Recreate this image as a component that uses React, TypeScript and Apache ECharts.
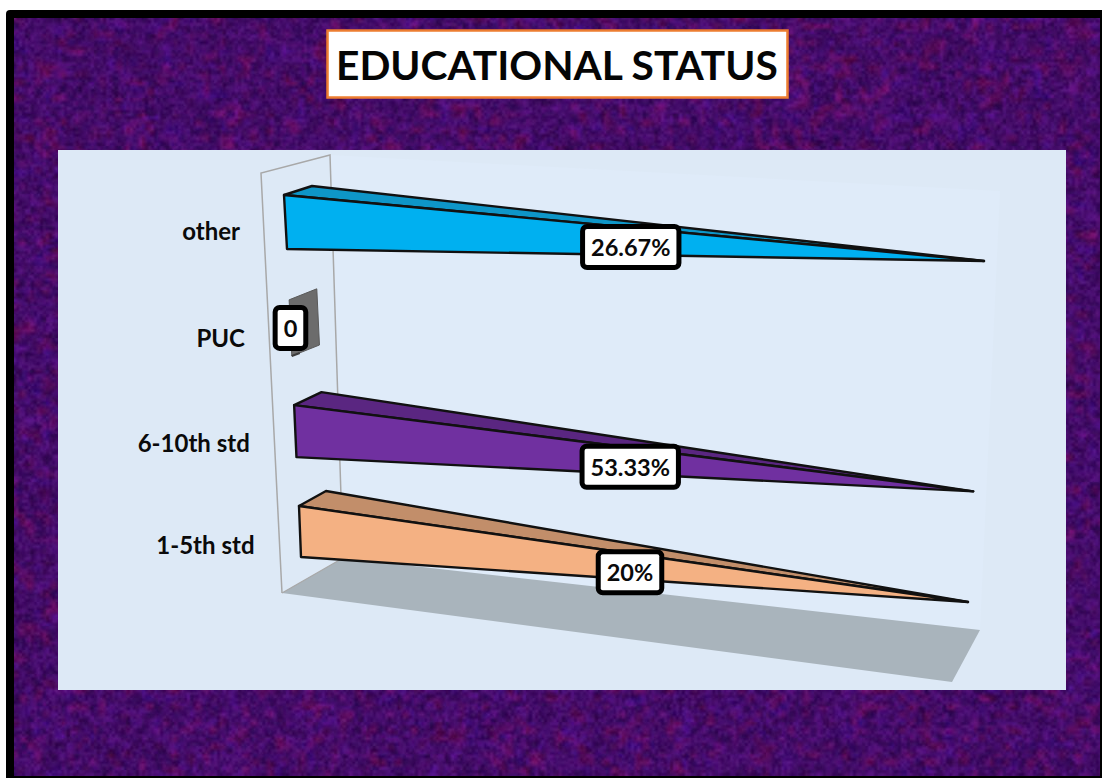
import React, { useEffect, useRef } from "react";
import * as echarts from "echarts";

// Categories run bottom to top on the hidden category axis.
const categories = ["1-5th std", "6-10th std", "PUC", "other"];
const percentages = [20, 53.33, 0, 26.67];
const frontColors = ["#F4B183", "#7030A0", "#6C6C6C", "#00B0F0"];
const topColors = ["#C28E6A", "#5A2681", "#6C6C6C", "#0E96C8"];

const titleText = "EDUCATIONAL STATUS";
const fontFamily = "Lato, 'Open Sans', sans-serif";

const lerp = (a: number, b: number, k: number) => a + (b - a) * k;

// The bars form a 100% stack with one member per category, so a filled category
// always reaches the far end of the axis and an empty one stays at the wall.
const shareOfCategory = (value: number) => (value > 0 ? (value / value) * 100 : 0);

// Perspective frame: where the flat plot's corners land on the page.
const frame = {
  topNear: [285.5, 222],
  topFar: [984, 261],
  bottomNear: [300, 531.5],
  bottomFar: [968, 602],
};

function project(u: number, t: number) {
  const tt = t + 0.04 * t * (1 - t);
  const top = [lerp(frame.topNear[0], frame.topFar[0], u), lerp(frame.topNear[1], frame.topFar[1], u)];
  const bot = [lerp(frame.bottomNear[0], frame.bottomFar[0], u), lerp(frame.bottomNear[1], frame.bottomFar[1], u)];
  return [lerp(top[0], bot[0], tt), lerp(top[1], bot[1], tt)];
}

function formatValue(v: number) {
  return v === 0 ? "0" : `${v}%`;
}

function renderBar(params: any, api: any) {
  const i = api.value(1) as number;
  const share = api.value(0) as number;
  const raw = percentages[i];
  const sys = params.coordSys;
  const [px, py] = api.coord([share, i]);
  const u = (px - sys.x) / sys.width;
  const band = (py - sys.y) / sys.height;
  const t = (band - 0.125) / 0.75;

  const near = project(0, t);
  const far = project(u, t);
  const empty = u === 0;
  const grow = empty ? 1.06 : 1;
  const half = lerp(27, 25.5, t) * grow;
  const skew = lerp(1.5, 1, t);
  const depthX = lerp(28, 27, t);
  const depthY = lerp(-9, -15, t);

  const tl = [near[0] - skew, near[1] - half];
  const bl = [near[0] + skew, near[1] + half];
  const backTop = [tl[0] + depthX, tl[1] + depthY];
  const backBottom = [bl[0] + depthX, bl[1] + depthY];

  const children: any[] = [];
  if (empty) {
    children.push({
      type: "polygon",
      shape: { points: [tl, backTop, backBottom, bl] },
      style: { fill: frontColors[i], stroke: "#5A5A5A", lineWidth: 1 },
    });
    children.push({
      type: "line",
      shape: { x1: bl[0], y1: bl[1], x2: bl[0] + 8, y2: bl[1] - 3 },
      style: { stroke: "#3C3C3C", lineWidth: 2 },
    });
  } else {
    children.push({
      type: "polygon",
      shape: { points: [tl, backTop, far] },
      style: { fill: topColors[i], stroke: "#111111", lineWidth: 2.4, lineJoin: "round" },
    });
    children.push({
      type: "polygon",
      shape: { points: [tl, bl, far] },
      style: { fill: frontColors[i], stroke: "#111111", lineWidth: 2.4, lineJoin: "round" },
    });
  }

  // Category name, set back from the wall along the same perspective.
  children.push({
    type: "text",
    style: {
      x: near[0] - 45.5,
      y: near[1] + lerp(8, 12.5, t),
      text: categories[i],
      align: "right",
      verticalAlign: "middle",
      fontFamily,
      fontWeight: 700,
      fontSize: 24,
      fill: "#0A0A0A",
    },
  });

  // Value tag, centred halfway along the bar.
  const mid = project(u / 2, t);
  children.push({
    type: "text",
    z2: 20,
    style: {
      x: mid[0] - 4 * u,
      y: mid[1] + 5.5 * u,
      text: formatValue(raw),
      align: "center",
      verticalAlign: "middle",
      fontFamily,
      fontWeight: 700,
      fontSize: 23.5,
      lineHeight: 24,
      fill: "#0A0A0A",
      backgroundColor: "#FFFFFF",
      borderColor: "#000000",
      borderWidth: 5,
      borderRadius: 2,
      padding: [6, 6, 6, 6],
    },
  });

  return { type: "group", children };
}

// Mottled purple backdrop built from layered value noise on a fixed hash.
function hash(x: number, y: number, seed: number) {
  let h = (x * 374761393 + y * 668265263 + seed * 2147483647) | 0;
  h = Math.imul(h ^ (h >>> 13), 1274126177);
  h = h ^ (h >>> 16);
  return (h >>> 0) / 4294967295;
}

function valueNoise(x: number, y: number, cell: number, seed: number) {
  const gx = Math.floor(x / cell);
  const gy = Math.floor(y / cell);
  let fx = x / cell - gx;
  let fy = y / cell - gy;
  fx = fx * fx * (3 - 2 * fx);
  fy = fy * fy * (3 - 2 * fy);
  return lerp(
    lerp(hash(gx, gy, seed), hash(gx + 1, gy, seed), fx),
    lerp(hash(gx, gy + 1, seed), hash(gx + 1, gy + 1, seed), fx),
    fy
  );
}

function buildBackdrop(width: number, height: number) {
  const canvas = document.createElement("canvas");
  canvas.width = width;
  canvas.height = height;
  const ctx = canvas.getContext("2d")!;
  const img = ctx.createImageData(width, height);
  for (let y = 0; y < height; y++) {
    for (let x = 0; x < width; x++) {
      const lum =
        0.55 * valueNoise(x, y, 3, 11) + 0.35 * valueNoise(x, y, 6, 23) + 0.1 * valueNoise(x, y, 18, 37);
      const warm = valueNoise(x, y, 8, 51);
      const cool = valueNoise(x, y, 11, 67);
      const k = (lum - 0.5) * 2.6;
      const o = (y * width + x) * 4;
      img.data[o] = 67 + k * 24 + Math.max(0, warm - 0.6) * 85;
      img.data[o + 1] = 12 + k * 7;
      img.data[o + 2] = 104 + k * 30 + Math.max(0, cool - 0.7) * 70 - Math.max(0, warm - 0.6) * 30;
      img.data[o + 3] = 255;
    }
  }
  ctx.putImageData(img, 0, 0);
  return canvas.toDataURL("image/jpeg", 0.85);
}

export default function App() {
  const ref = useRef<HTMLDivElement>(null);

  useEffect(() => {
    document.body.style.margin = "0";
    const chart = echarts.init(ref.current!, undefined, { renderer: "svg" });
    chart.setOption({
      animation: false,
      backgroundColor: "#FFFFFF",
      title: {
        text: titleText,
        left: 327,
        top: 30,
        backgroundColor: "#FFFFFF",
        borderColor: "#ED7D31",
        borderWidth: 2.5,
        padding: [13, 9, 13, 9],
        textStyle: {
          fontFamily,
          fontWeight: 700,
          fontSize: 40.7,
          lineHeight: 42,
          color: "#050505",
        },
      },
      grid: { left: 285, top: 170, width: 699, height: 416 },
      xAxis: { type: "value", min: 0, max: 100, show: false },
      yAxis: { type: "category", data: categories, show: false },
      graphic: [
        { type: "rect", z: -20, shape: { x: 6, y: 10, width: 1110, height: 780, r: 4 }, style: { fill: "#000000" } },
        { type: "image", z: -19, style: { image: buildBackdrop(1086, 758), x: 14, y: 18, width: 1086, height: 758 } },
        { type: "rect", z: -18, shape: { x: 58, y: 150, width: 1008, height: 540 }, style: { fill: "#DDE9F6" } },
        // back wall
        {
          type: "polygon",
          z: -17,
          shape: { points: [[330, 155], [1000, 191], [980, 630], [343, 560]] },
          style: { fill: "#DFEBF9" },
        },
        // floor
        {
          type: "polygon",
          z: -16,
          shape: { points: [[282, 593], [343, 558], [980, 630], [952, 682]] },
          style: { fill: "#A9B4BC" },
        },
        // side wall
        {
          type: "polyline",
          z: -15,
          shape: { points: [[282, 593], [261, 173], [330, 155], [343, 558]] },
          style: { stroke: "#A8A8A8", lineWidth: 1.5, fill: "none" },
        },
        {
          type: "line",
          z: -15,
          shape: { x1: 282, y1: 593, x2: 343, y2: 558 },
          style: { stroke: "#A8A8A8", lineWidth: 1.2 },
        },
      ],
      series: [
        {
          type: "custom",
          coordinateSystem: "cartesian2d",
          clip: false,
          silent: true,
          renderItem: renderBar,
          encode: { x: 0, y: 1 },
          data: percentages.map((v, i) => [shareOfCategory(v), i]),
        },
      ],
    });
    return () => chart.dispose();
  }, []);

  return <div ref={ref} style={{ position: "absolute", left: 0, top: 0, width: 1102, height: 778, overflow: "hidden" }} />;
}
